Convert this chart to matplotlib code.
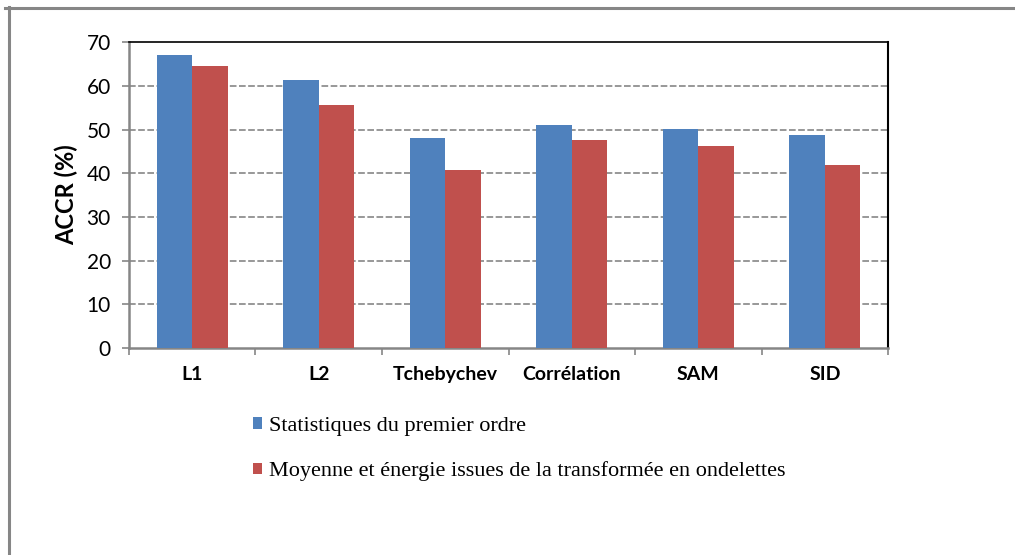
import matplotlib.pyplot as plt
import numpy as np
from matplotlib.patches import Patch
from matplotlib.lines import Line2D

# data
categories = ['L1', 'L2', 'Tchebychev', 'Corrélation', 'SAM', 'SID']
stats_premier_ordre = [67.0, 61.3, 48.0, 51.0, 50.1, 48.7]
moyenne_energie = [64.5, 55.6, 40.7, 47.6, 46.2, 41.9]
series_labels = ['Statistiques du premier ordre',
                 'Moyenne et énergie issues de la transformée en ondelettes']
y_ticks = [0, 10, 20, 30, 40, 50, 60, 70]

blue = '#4F81BD'
red = '#C0504D'
grey = '#868686'

fig = plt.figure(figsize=(10.15, 5.55), dpi=100)
ax = fig.add_axes([0.127, 0.373, 0.748, 0.551])

x = np.arange(len(categories))
w = 0.28
ax.bar(x - w / 2, stats_premier_ordre, w, color=blue, zorder=3)
ax.bar(x + w / 2, moyenne_energie, w, color=red, zorder=3)

ax.set_xlim(-0.5, len(categories) - 0.5)
ax.set_ylim(0, 70)
ax.set_yticks(y_ticks)
ax.set_yticklabels([str(v) for v in y_ticks], family='Lato', fontsize=15)
for v in y_ticks[1:-1]:
    ax.axhline(v, color=grey, lw=1.2, linestyle=(0, (4, 1.5)), zorder=1)

# category boundaries as major ticks, labels on minor ticks
ax.set_xticks(np.arange(-0.5, len(categories), 1.0))
ax.set_xticklabels([])
ax.set_xticks(x, minor=True)
ax.set_xticklabels(categories, minor=True, family='Lato', fontweight='bold', fontsize=14)
ax.tick_params(axis='x', which='minor', length=0, pad=13)
ax.tick_params(axis='x', which='major', length=5, color=grey, width=1.2)
ax.tick_params(axis='y', length=5, color=grey, width=1.2, pad=8)

ax.set_ylabel('ACCR (%)', family='Lato', fontweight='bold', fontsize=17, labelpad=6)

ax.spines['left'].set_color(grey)
ax.spines['left'].set_linewidth(1.8)
ax.spines['bottom'].set_color(grey)
ax.spines['bottom'].set_linewidth(1.8)
ax.spines['top'].set_color('black')
ax.spines['top'].set_linewidth(1.2)
ax.spines['right'].set_color('black')
ax.spines['right'].set_linewidth(1.5)

handles = [Patch(facecolor=blue), Patch(facecolor=red)]
fig.legend(handles, series_labels, loc='upper left', bbox_to_anchor=(253 / 1015, 1 - 417 / 555),
           bbox_transform=fig.transFigure, frameon=False,
           prop={'family': 'Liberation Serif', 'size': 16},
           handlelength=0.42, handleheight=0.42, handletextpad=0.3, labelspacing=1.15,
           borderpad=0, borderaxespad=0)

# outer frame of the chart area
fig.add_artist(Line2D([5 / 1015, 1.0], [1 - 8 / 555, 1 - 8 / 555], color=grey, lw=2.2,
                      transform=fig.transFigure))
fig.add_artist(Line2D([9 / 1015, 9 / 1015], [0.0, 1 - 7 / 555], color=grey, lw=2.2,
                      transform=fig.transFigure))

fig.savefig('out.png', dpi=100)
